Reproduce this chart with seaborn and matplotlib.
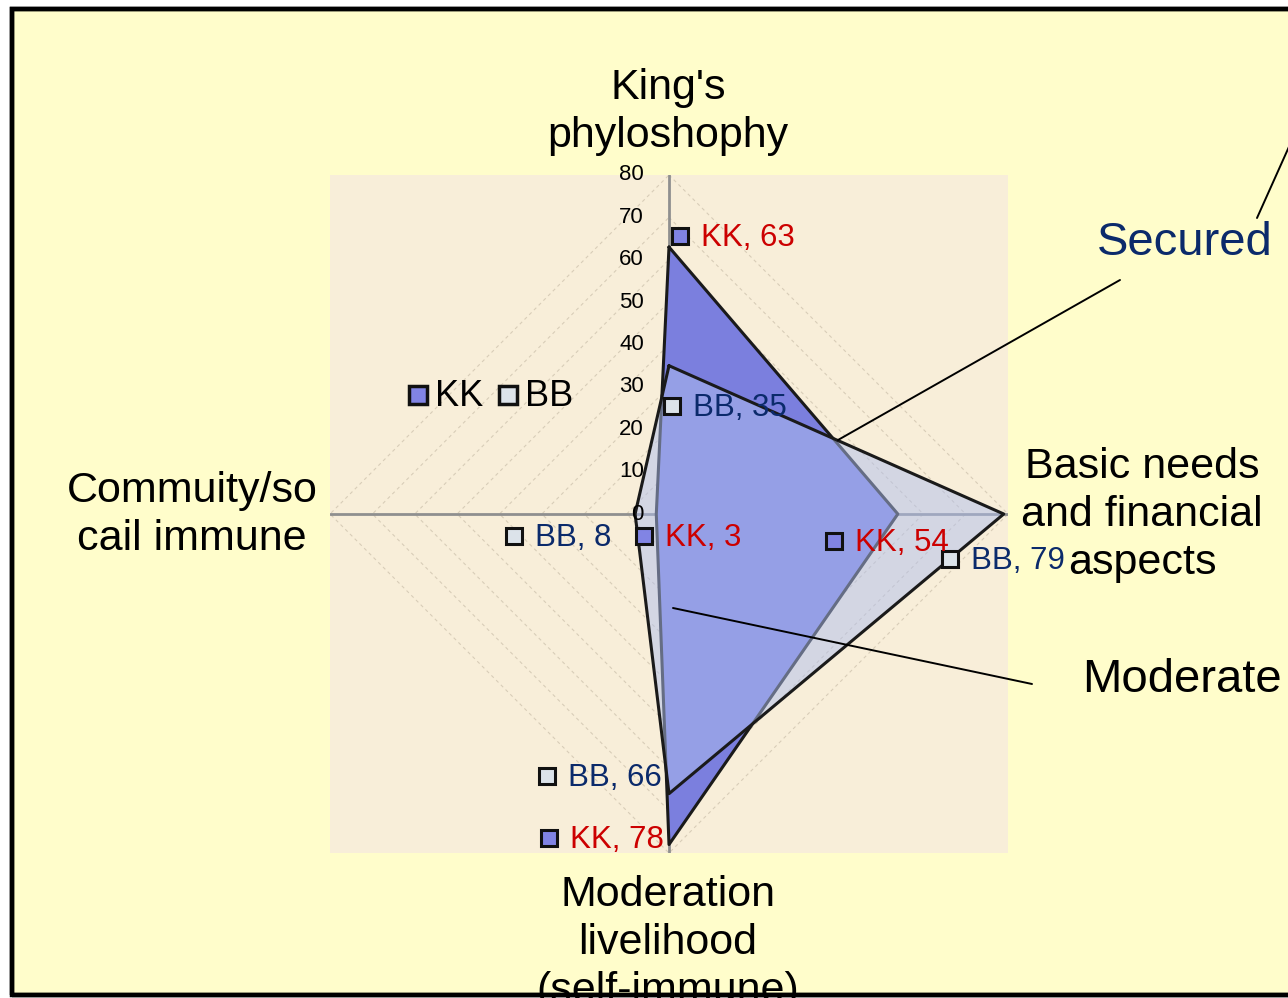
import numpy as np
import pandas as pd
import matplotlib
matplotlib.use("Agg")
import matplotlib.pyplot as plt
import seaborn as sns
from matplotlib.patches import Rectangle
from matplotlib.lines import Line2D
from matplotlib.transforms import offset_copy

# ---------------- data ----------------
categories = ["King's\nphyloshophy", "Basic needs\nand financial\naspects",
              "Moderation\nlivelihood\n(self-immune)", "Commuity/so\ncail immune"]
series_names = ["KK", "BB"]
kk_values = [63, 54, 78, 3]
bb_values = [35, 79, 66, 8]
tick_values = [0, 10, 20, 30, 40, 50, 60, 70, 80]
r_max = 80

# ---------------- style / layout ----------------
W, H = 1288, 998
sns.set_theme(style="white")
plt.rcParams["font.family"] = ["Liberation Sans", "DejaVu Sans"]

fig = plt.figure(figsize=(W / 100, H / 100), dpi=100)
fig.patch.set_facecolor("white")

def fx(px):
    return px / W

def fy(py):
    return 1 - py / H

# slide frame
fig.add_artist(Rectangle((fx(12), fy(995)), fx(1300) - fx(12), fy(9) - fy(995),
                         transform=fig.transFigure, facecolor="#fffdcb",
                         edgecolor="black", lw=3.2, zorder=0))

ax = fig.add_axes([fx(330), fy(853), fx(1008) - fx(330), fy(175) - fy(853)])
ax.set_xlim(-r_max, r_max)
ax.set_ylim(-r_max, r_max)
ax.set_facecolor("#f8eed9")
for s in ax.spines.values():
    s.set_visible(False)
ax.set_xticks([])
ax.set_yticks([])

# directions: top, right, bottom, left
dirs = np.array([[0, 1], [1, 0], [0, -1], [-1, 0]], dtype=float)

# grid diamonds (faint dashed)
for t in tick_values[1:]:
    pts = np.vstack([dirs * t, dirs[:1] * t])
    ax.plot(pts[:, 0], pts[:, 1], color="#d8cdb8", lw=0.8, ls=(0, (3, 3)), zorder=1)

# axes lines
ax.plot([-r_max, r_max], [0, 0], color="#8f8f8f", lw=2, zorder=1.5)
ax.plot([0, 0], [-r_max, r_max], color="#8f8f8f", lw=2, zorder=1.5)

def poly(vals):
    p = dirs * np.array(vals, dtype=float)[:, None]
    return np.vstack([p, p[:1]])

kk_pts = poly(kk_values)
bb_pts = poly(bb_values)

ax.fill(kk_pts[:, 0], kk_pts[:, 1], color="#7b7fde", zorder=2)
sns.lineplot(x=kk_pts[:, 0], y=kk_pts[:, 1], sort=False, estimator=None,
             color="#1a1a1a", lw=2.2, ax=ax, zorder=2.1)
ax.fill(bb_pts[:, 0], bb_pts[:, 1], color="#b0c0ee", alpha=0.5, lw=0, zorder=3)
sns.lineplot(x=bb_pts[:, 0], y=bb_pts[:, 1], sort=False, estimator=None,
             color="#1a1a1a", lw=2.2, ax=ax, zorder=3.1)

# tick labels on vertical axis
for t in tick_values:
    ax.annotate(str(t), xy=(0, t), xytext=(-25, 0), textcoords="offset pixels",
                ha="right", va="center", fontsize=16, color="black", zorder=6)

# data labels (marker + text), offsets in pixels relative to vertex
kk_offsets = [(11, 11), (-64, -27), (-120, 7), (-12, -22)]
bb_offsets = [(3, -40), (-54, -45), (-122, 18), (-121, -22)]
label_colors = {"KK": "#cc0000", "BB": "#0b2a6b"}
marker_fill = {"KK": "#8184e4", "BB": "#dce3ea"}

for name, vals, offs in [("KK", kk_values, kk_offsets), ("BB", bb_values, bb_offsets)]:
    for d, v, (dx, dy) in zip(dirs, vals, offs):
        x, y = d * v
        tr = offset_copy(ax.transData, fig=fig, x=dx, y=dy, units="dots")
        ax.plot([x], [y], marker="s", ms=11, mfc=marker_fill[name], mec="#111111",
                mew=2.2, transform=tr, zorder=7, clip_on=False)
        ax.annotate(f"{name}, {v}", xy=(x, y), xytext=(dx + 21, dy - 2),
                    textcoords="offset pixels", ha="left", va="center",
                    fontsize=22.5, color=label_colors[name], zorder=8,
                    annotation_clip=False)

# legend
leg_items = [("KK", 418, 395), ("BB", 508, 395)]
for name, px, py in leg_items:
    fig.add_artist(Line2D([fx(px)], [fy(py)], marker="s", ms=13,
                          mfc=marker_fill[name], mec="#111111", mew=2.5,
                          transform=fig.transFigure, zorder=9))
    fig.text(fx(px + 17), fy(py + 2), name, ha="left", va="center", fontsize=26,
             color="black", zorder=9)

# category titles
title_pos = [(668, 112), (1142, 515), (668, 943), (192, 515)]
for cat, (px, py) in zip(categories, title_pos):
    fig.text(fx(px), fy(py), cat, ha="center", va="center", fontsize=31,
             linespacing=1.25, color="black", zorder=5)

# callouts
fig.text(fx(1185), fy(243), "Secured", ha="center", va="center", fontsize=34,
         color="#0b2a6b")
fig.text(fx(1182), fy(680), "Moderate", ha="center", va="center", fontsize=34,
         color="black")
for (x1, y1, x2, y2) in [(1120, 280, 838, 440), (1257, 218, 1292, 140),
                         (1032, 684, 673, 608)]:
    fig.add_artist(Line2D([fx(x1), fx(x2)], [fy(y1), fy(y2)], color="black",
                          lw=1.4, transform=fig.transFigure, zorder=10))

# frame drawn over clipped title at the bottom
fig.add_artist(Rectangle((fx(12), fy(995)), fx(1300) - fx(12), fy(9) - fy(995),
                         transform=fig.transFigure, facecolor="none",
                         edgecolor="black", lw=3.2, zorder=20))

fig.savefig("out.png", dpi=100, facecolor=fig.get_facecolor())
